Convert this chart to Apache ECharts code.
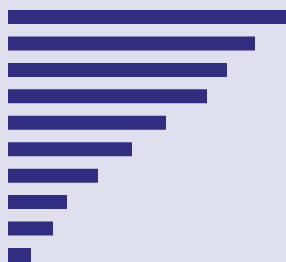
<!DOCTYPE html>
<html>
<head>
<meta charset="utf-8">
<script src="https://cdn.jsdelivr.net/npm/echarts@6/dist/echarts.min.js"></script>
<style>
  html, body { margin: 0; padding: 0; background: #e0dfee; }
  #main { width: 286px; height: 262px; }
</style>
</head>
<body>
<div id="main"></div>
<script>
  // categories top to bottom
  const categories = ["A", "B", "C", "D", "E", "F", "G", "H", "I", "J"];
  // bar lengths
  const values = [290, 247, 219, 199, 158, 124, 90, 59, 45, 23];

  let chart = echarts.init(document.getElementById("main"));
  chart.setOption({
    animation: false,
    backgroundColor: "#e0dfee",
    grid: { left: 8, right: 0, top: 17, bottom: 7 },
    xAxis: {
      type: "value",
      min: 0,
      max: 278,
      show: false,
    },
    yAxis: {
      type: "category",
      data: categories,
      inverse: true,
      boundaryGap: false,
      show: false,
    },
    series: [
      {
        type: "bar",
        data: values,
        barWidth: 14,
        clip: false,
        itemStyle: { color: "#312e82" },
        silent: true,
      },
    ],
  });
</script>
</body>
</html>
